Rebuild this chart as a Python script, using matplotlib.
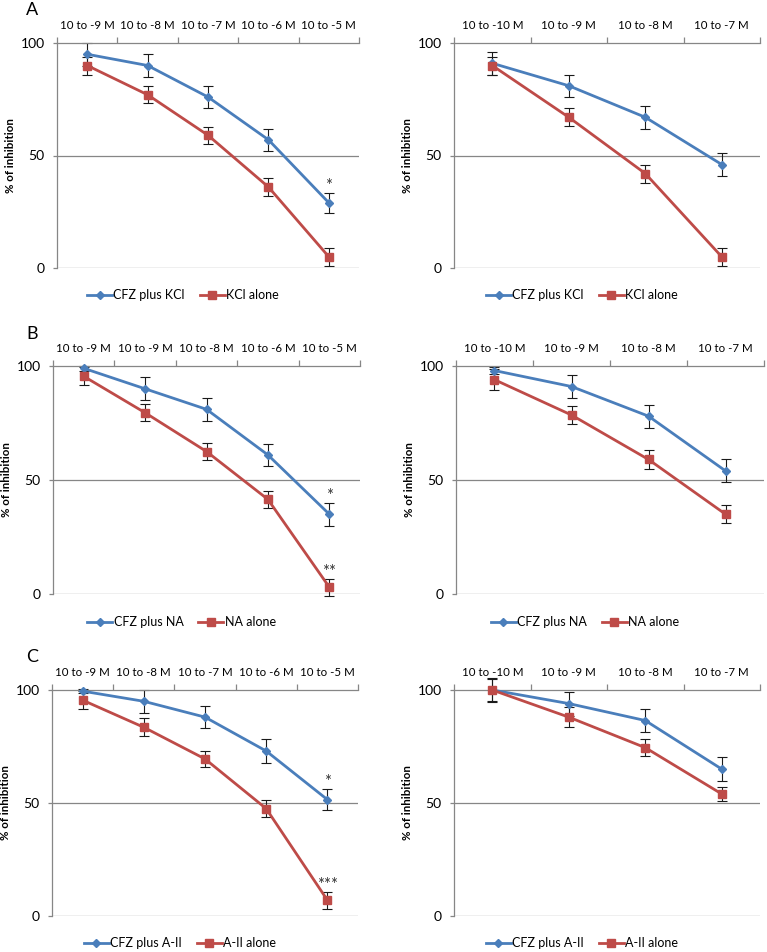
import matplotlib
matplotlib.use("Agg")
import matplotlib.pyplot as plt
import numpy as np

plt.rcParams['font.family'] = ['Lato', 'DejaVu Sans']

# ---- data ----
cats_5a = ["10 to -9 M", "10 to -8 M", "10 to -7 M", "10 to -6 M", "10 to -5 M"]
cats_5b = ["10 to -9 M", "10 to -9 M", "10 to -8 M", "10 to -6 M", "10 to -5 M"]
cats_4 = ["10 to -10 M", "10 to -9 M", "10 to -8 M", "10 to -7 M"]

a_left_cfz = [95, 90, 76, 57, 29]
a_left_cfz_err = [5, 5, 5, 5, 4.5]
a_left_alone = [90, 77, 59, 36, 5]
a_left_alone_err = [4, 3.7, 3.7, 4, 4]

a_right_cfz = [91, 81, 67, 46]
a_right_cfz_err = [5, 5, 5, 5]
a_right_alone = [90, 67, 42, 5]
a_right_alone_err = [4, 4, 4, 4]

b_left_cfz = [99, 90, 81, 61, 35]
b_left_cfz_err = [1, 5, 5, 5, 5]
b_left_alone = [95.5, 79.5, 62.5, 41.5, 3]
b_left_alone_err = [4, 3.7, 3.7, 3.7, 3.7]

b_right_cfz = [98, 91, 78, 54]
b_right_cfz_err = [1.5, 5, 5, 5]
b_right_alone = [94, 78.5, 59, 35]
b_right_alone_err = [4.5, 4, 4, 4]

c_left_cfz = [99.5, 95, 88, 73, 51.5]
c_left_cfz_err = [1, 5, 5, 5.5, 4.7]
c_left_alone = [95.5, 83.5, 69.5, 47.5, 7]
c_left_alone_err = [4, 4, 3.6, 3.7, 3.7]

c_right_cfz = [100, 94, 86.5, 65]
c_right_cfz_err = [5.5, 5.3, 5, 5.2]
c_right_alone = [100, 88, 74.5, 54]
c_right_alone_err = [5, 4.5, 3.7, 3]

agents = ["KCl", "NA", "A-II"]
panel_letters = ["A", "B", "C"]

W, H = 767, 952
fig = plt.figure(figsize=(W / 100, H / 100), dpi=100)

BLUE = "#4A7EBB"
RED = "#BE4B48"
GRAY = "#868686"

# axes pixel boxes: (left, right, top, bottom)
boxes = [
    [(57, 359, 43, 268), (454, 760, 43, 268)],
    [(53, 360, 366, 594), (456, 764, 366, 594)],
    [(52, 358, 690, 916), (454, 760, 690, 916)],
]
letter_y = [10, 334, 657]
legend_y = [295, 622, 943]

rows = [
    (cats_5a, a_left_cfz, a_left_cfz_err, a_left_alone, a_left_alone_err,
     cats_4, a_right_cfz, a_right_cfz_err, a_right_alone, a_right_alone_err,
     "*", ""),
    (cats_5b, b_left_cfz, b_left_cfz_err, b_left_alone, b_left_alone_err,
     cats_4, b_right_cfz, b_right_cfz_err, b_right_alone, b_right_alone_err,
     "*", "**"),
    (cats_5a, c_left_cfz, c_left_cfz_err, c_left_alone, c_left_alone_err,
     cats_4, c_right_cfz, c_right_cfz_err, c_right_alone, c_right_alone_err,
     "*", "***"),
]


def draw(ax, cats, cfz, cfz_err, alone, alone_err, agent, star_cfz="", star_alone=""):
    n = len(cats)
    x = np.arange(n)
    ax.set_xlim(-0.5, n - 0.5)
    ax.set_ylim(0, 100)
    ax.axhline(50, color=GRAY, lw=0.9, zorder=1)
    ax.axhline(0, color=GRAY, lw=0.9, zorder=1)
    for vals, err, col, mk, ms, lab in [
        (cfz, cfz_err, BLUE, "D", 4.3, "CFZ plus " + agent),
        (alone, alone_err, RED, "s", 6.2, agent + " alone"),
    ]:
        ax.errorbar(x, vals, yerr=err, fmt="none", ecolor="#1a1a1a",
                    elinewidth=0.8, capsize=3.5, capthick=0.8, zorder=2, clip_on=False)
        ax.plot(x, vals, color=col, lw=2.0, marker=mk, ms=ms, mfc=col, mec=col,
                label=lab, zorder=3, clip_on=False)
    if star_cfz:
        ax.annotate(star_cfz, (x[-1], cfz[-1] + cfz_err[-1]), xytext=(0, -1),
                    textcoords="offset points", ha="center", va="bottom",
                    fontsize=12, color="#333333")
    if star_alone:
        ax.annotate(star_alone, (x[-1], alone[-1] + alone_err[-1]), xytext=(0, -1),
                    textcoords="offset points", ha="center", va="bottom",
                    fontsize=12, color="#333333")
    ax.xaxis.tick_top()
    ax.set_xticks(x)
    ax.set_xticklabels(cats, fontsize=8.3)
    ax.set_xticks(np.arange(n + 1) - 0.5, minor=True)
    ax.tick_params(axis="x", which="major", length=0, pad=9)
    ax.tick_params(axis="x", which="minor", length=4, color=GRAY, width=0.9)
    ax.set_yticks([0, 50, 100])
    ax.tick_params(axis="y", length=3, color=GRAY, width=0.9, pad=6, labelsize=10)
    for s in ["right", "bottom"]:
        ax.spines[s].set_visible(False)
    for s in ["left", "top"]:
        ax.spines[s].set_color(GRAY)
        ax.spines[s].set_linewidth(0.9)
    ax.set_ylabel("% of inhibition", fontsize=8.3, fontweight="bold")


for r, row in enumerate(rows):
    (cl, lc, lce, la, lae, cr, rc, rce, ra, rae, s1, s2) = row
    agent = agents[r]
    for c in range(2):
        l, rr, t, b = boxes[r][c]
        ax = fig.add_axes([l / W, 1 - b / H, (rr - l) / W, (b - t) / H])
        if c == 0:
            draw(ax, cl, lc, lce, la, lae, agent, s1, s2)
        else:
            draw(ax, cr, rc, rce, ra, rae, agent)
        ax.yaxis.set_label_coords(-41 / (rr - l), 0.5)
        cx = (l + rr) / 2 - 25
        ax.legend(loc="center", bbox_to_anchor=(cx / W, 1 - legend_y[r] / H),
                  bbox_transform=fig.transFigure, ncol=2, frameon=False,
                  fontsize=9, handlelength=2.0, handletextpad=0.1,
                  columnspacing=1.2)
    fig.text(32 / W, 1 - letter_y[r] / H, panel_letters[r], fontsize=13,
             ha="center", va="center")

fig.savefig("out.png", dpi=100, facecolor="white")
